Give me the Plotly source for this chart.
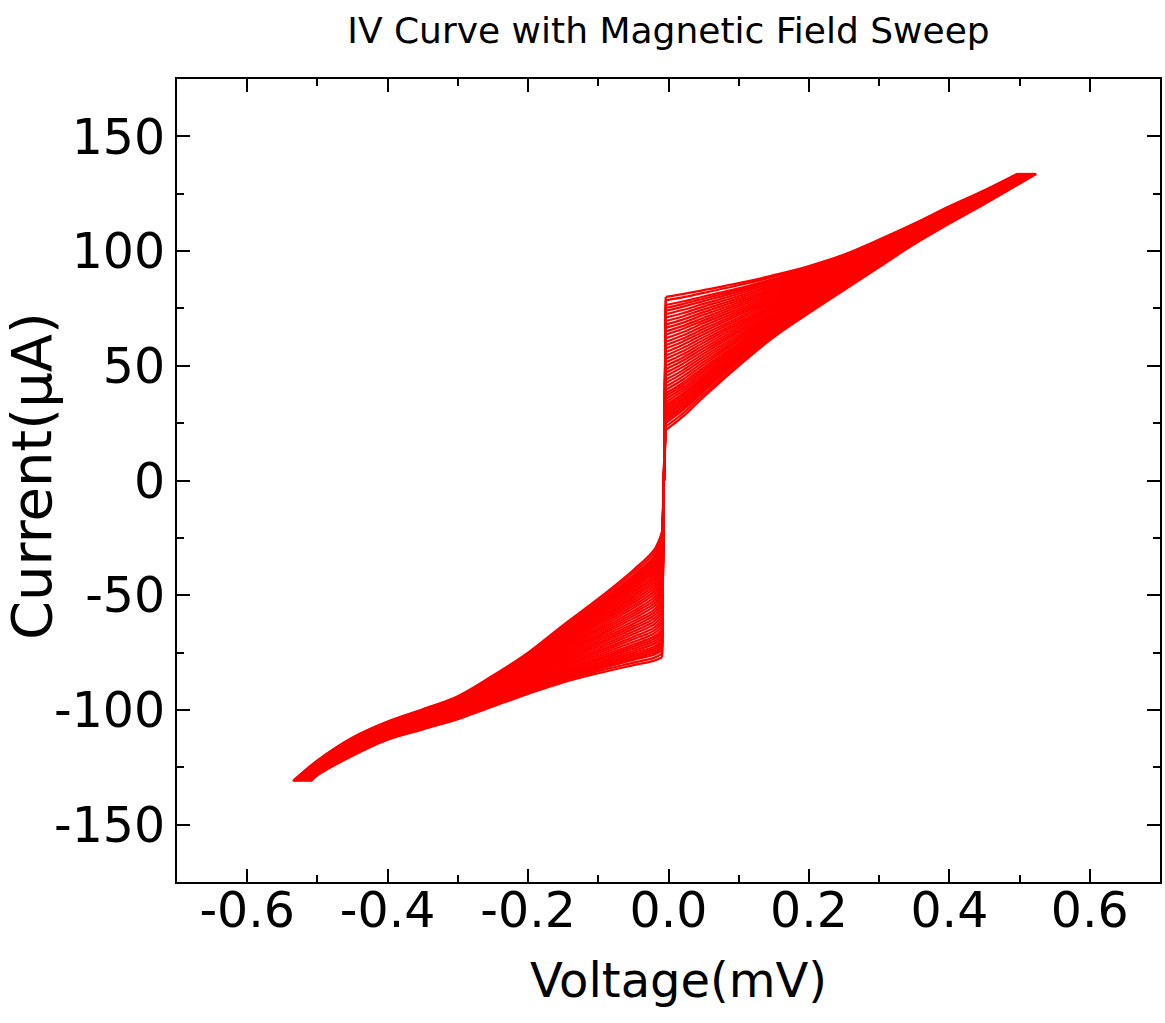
import plotly.graph_objects as go

# ---------------- data ----------------
# positive branch: voltage grid (mV) and current (uA) of each field step
V_POS = [-0.004, 0.02, 0.05, 0.10, 0.15, 0.20, 0.25, 0.30, 0.35, 0.40, 0.45]
I_POS = [
    [22.0, 27.7, 36.4, 50.0, 62.5, 73.0, 83.0, 93.0, 103.0, 112.0, 120.5],
    [23.5, 29.1, 37.6, 50.9, 63.2, 73.5, 83.4, 93.3, 103.2, 112.2, 120.7],
    [25.0, 30.5, 38.8, 51.9, 63.9, 74.1, 83.8, 93.6, 103.5, 112.4, 120.8],
    [26.0, 31.4, 39.6, 52.5, 64.4, 74.5, 84.1, 93.8, 103.7, 112.5, 120.9],
    [27.0, 32.3, 40.4, 53.1, 64.8, 74.8, 84.3, 94.0, 103.8, 112.6, 121.0],
    [28.0, 33.3, 41.2, 53.8, 65.3, 75.2, 84.6, 94.3, 104.0, 112.8, 121.1],
    [29.0, 34.2, 42.0, 54.4, 65.8, 75.5, 84.9, 94.5, 104.1, 112.9, 121.2],
    [30.0, 35.1, 42.8, 55.0, 66.3, 75.9, 85.2, 94.7, 104.3, 113.1, 121.3],
    [31.0, 36.0, 43.6, 55.6, 66.7, 76.2, 85.4, 94.9, 104.4, 113.2, 121.4],
    [32.0, 37.0, 44.5, 56.2, 67.2, 76.6, 85.7, 95.1, 104.6, 113.3, 121.5],
    [33.0, 37.9, 45.3, 56.8, 67.6, 76.9, 85.9, 95.3, 104.7, 113.4, 121.6],
    [34.2, 39.1, 46.3, 57.6, 68.2, 77.4, 86.3, 95.6, 104.9, 113.6, 121.8],
    [35.5, 40.2, 47.3, 58.4, 68.8, 77.8, 86.6, 95.8, 105.1, 113.7, 121.9],
    [36.8, 41.4, 48.3, 59.2, 69.4, 78.3, 87.0, 96.1, 105.3, 113.9, 122.1],
    [38.0, 42.5, 49.3, 59.9, 70.0, 78.7, 87.3, 96.3, 105.5, 114.1, 122.2],
    [39.5, 43.9, 50.5, 60.9, 70.7, 79.2, 87.7, 96.6, 105.8, 114.3, 122.4],
    [41.0, 45.3, 51.7, 61.8, 71.4, 79.7, 88.1, 96.9, 106.0, 114.5, 122.5],
    [42.5, 46.7, 52.9, 62.7, 72.1, 80.3, 88.5, 97.3, 106.2, 114.7, 122.7],
    [44.0, 48.0, 54.1, 63.6, 72.7, 80.8, 88.9, 97.6, 106.4, 114.8, 122.8],
    [45.5, 49.4, 55.3, 64.6, 73.4, 81.3, 89.3, 97.9, 106.7, 115.0, 123.0],
    [47.0, 50.8, 56.5, 65.5, 74.1, 81.8, 89.7, 98.2, 106.9, 115.2, 123.1],
    [48.5, 52.2, 57.7, 66.5, 74.8, 82.4, 90.1, 98.5, 107.1, 115.4, 123.3],
    [50.0, 53.5, 58.9, 67.4, 75.5, 82.9, 90.5, 98.8, 107.3, 115.6, 123.4],
    [51.5, 54.9, 60.1, 68.3, 76.2, 83.5, 90.9, 99.1, 107.6, 115.8, 123.6],
    [53.0, 56.3, 61.3, 69.2, 76.9, 84.0, 91.3, 99.4, 107.8, 116.0, 123.7],
    [54.5, 57.7, 62.5, 70.2, 77.6, 84.5, 91.7, 99.7, 108.1, 116.2, 123.9],
    [56.0, 59.1, 63.7, 71.1, 78.3, 85.0, 92.1, 100.0, 108.3, 116.4, 124.0],
    [57.5, 60.5, 64.9, 72.1, 79.0, 85.6, 92.5, 100.4, 108.5, 116.6, 124.2],
    [59.0, 61.8, 66.1, 73.0, 79.7, 86.1, 92.9, 100.7, 108.7, 116.8, 124.3],
    [60.5, 63.2, 67.4, 73.9, 80.4, 86.6, 93.3, 101.0, 109.0, 117.0, 124.5],
    [62.0, 64.6, 68.6, 74.8, 81.1, 87.1, 93.7, 101.3, 109.2, 117.2, 124.6],
    [63.5, 66.0, 69.8, 75.8, 81.8, 87.7, 94.1, 101.6, 109.5, 117.4, 124.8],
    [65.0, 67.3, 70.9, 76.7, 82.5, 88.2, 94.5, 101.9, 109.7, 117.6, 124.9],
    [66.5, 68.7, 72.2, 77.6, 83.2, 88.8, 94.9, 102.2, 109.9, 117.8, 125.1],
    [68.0, 70.1, 73.4, 78.5, 83.9, 89.3, 95.3, 102.5, 110.1, 117.9, 125.3],
    [69.5, 71.5, 74.6, 79.5, 84.6, 89.8, 95.7, 102.8, 110.4, 118.1, 125.5],
    [71.0, 72.9, 75.8, 80.4, 85.3, 90.3, 96.1, 103.1, 110.6, 118.3, 125.6],
    [72.5, 74.3, 77.0, 81.4, 86.0, 90.9, 96.5, 103.5, 110.9, 118.5, 125.8],
    [74.0, 75.7, 78.2, 82.3, 86.7, 91.4, 96.9, 103.8, 111.1, 118.7, 125.9],
    [75.2, 76.9, 79.2, 83.1, 87.3, 91.9, 97.3, 104.1, 111.3, 118.9, 126.0],
    [76.5, 78.0, 80.2, 83.8, 87.9, 92.3, 97.6, 104.3, 111.5, 119.1, 126.1],
    [78.5, 79.8, 81.8, 85.1, 88.8, 93.0, 98.1, 104.7, 111.8, 119.3, 126.3],
    [80.0, 81.2, 83.0, 86.0, 89.5, 93.5, 98.5, 105.0, 112.0, 119.5, 126.5],
]
V_POS_END = [0.524, 0.523, 0.523, 0.522, 0.522, 0.521, 0.521, 0.520, 0.520,
             0.519, 0.519, 0.518, 0.518, 0.517, 0.517, 0.516, 0.515, 0.514,
             0.514, 0.513, 0.512, 0.512, 0.511, 0.510, 0.510, 0.509, 0.508,
             0.508, 0.507, 0.506, 0.505, 0.505, 0.504, 0.504, 0.503, 0.502,
             0.501, 0.501, 0.500, 0.500, 0.499, 0.498, 0.497]
I_POS_END = 133.7

# negative branch
V_NEG = [-0.009, -0.02, -0.05, -0.10, -0.15, -0.20, -0.25, -0.30, -0.35,
         -0.40, -0.45, -0.50]
I_NEG = [
    [-22.0, -30.0, -39.0, -51.5, -63.0, -75.0, -85.0, -94.0, -99.7, -105.0, -112.0, -122.0],
    [-23.5, -31.3, -40.1, -52.4, -63.7, -75.5, -85.4, -94.3, -99.9, -105.2, -112.2, -122.2],
    [-25.0, -32.7, -41.3, -53.3, -64.4, -76.0, -85.7, -94.6, -100.2, -105.4, -112.4, -122.4],
    [-26.0, -33.6, -42.1, -53.9, -64.9, -76.3, -86.0, -94.8, -100.4, -105.6, -112.6, -122.5],
    [-27.0, -34.4, -42.8, -54.5, -65.3, -76.6, -86.2, -94.9, -100.5, -105.7, -112.7, -122.6],
    [-28.0, -35.3, -43.6, -55.1, -65.8, -77.0, -86.5, -95.1, -100.7, -105.9, -112.9, -122.7],
    [-29.0, -36.2, -44.3, -55.6, -66.2, -77.3, -86.7, -95.3, -100.8, -106.0, -113.0, -122.8],
    [-30.0, -37.1, -45.1, -56.2, -66.7, -77.7, -87.0, -95.5, -101.0, -106.2, -113.2, -123.0],
    [-31.0, -38.0, -45.8, -56.8, -67.1, -78.0, -87.2, -95.6, -101.1, -106.3, -113.3, -123.1],
    [-32.0, -38.9, -46.6, -57.4, -67.6, -78.3, -87.5, -95.8, -101.3, -106.5, -113.5, -123.2],
    [-33.0, -39.7, -47.3, -58.0, -68.0, -78.6, -87.7, -96.0, -101.5, -106.6, -113.6, -123.3],
    [-34.2, -40.8, -48.3, -58.8, -68.6, -79.0, -88.0, -96.3, -101.7, -106.8, -113.8, -123.5],
    [-35.5, -41.9, -49.2, -59.5, -69.1, -79.4, -88.3, -96.5, -101.9, -107.0, -114.0, -123.6],
    [-36.8, -43.0, -50.2, -60.3, -69.7, -79.8, -88.6, -96.7, -102.1, -107.2, -114.2, -123.8],
    [-38.0, -44.1, -51.1, -61.0, -70.3, -80.2, -88.9, -96.9, -102.3, -107.3, -114.3, -123.9],
    [-39.5, -45.4, -52.2, -61.9, -71.0, -80.7, -89.3, -97.2, -102.5, -107.6, -114.6, -124.1],
    [-41.0, -46.7, -53.3, -62.7, -71.6, -81.2, -89.7, -97.5, -102.7, -107.8, -114.8, -124.2],
    [-42.5, -48.1, -54.5, -63.6, -72.3, -81.7, -90.1, -97.8, -103.0, -108.0, -115.0, -124.4],
    [-44.0, -49.4, -55.6, -64.5, -73.0, -82.2, -90.4, -98.0, -103.2, -108.2, -115.2, -124.6],
    [-45.5, -50.8, -56.8, -65.4, -73.7, -82.7, -90.8, -98.3, -103.5, -108.4, -115.4, -124.8],
    [-47.0, -52.1, -57.9, -66.3, -74.4, -83.2, -91.1, -98.6, -103.7, -108.6, -115.6, -125.0],
    [-48.5, -53.4, -59.0, -67.2, -75.1, -83.7, -91.5, -98.9, -104.0, -108.9, -115.9, -125.2],
    [-50.0, -54.7, -60.1, -68.0, -75.7, -84.2, -91.9, -99.1, -104.2, -109.1, -116.1, -125.3],
    [-51.5, -56.1, -61.3, -68.9, -76.4, -84.7, -92.3, -99.4, -104.5, -109.3, -116.3, -125.5],
    [-53.0, -57.4, -62.4, -69.8, -77.1, -85.2, -92.6, -99.6, -104.7, -109.5, -116.5, -125.7],
    [-54.5, -58.7, -63.5, -70.7, -77.8, -85.7, -93.0, -99.9, -104.9, -109.7, -116.7, -125.9],
    [-56.0, -60.0, -64.6, -71.6, -78.5, -86.1, -93.3, -100.2, -105.1, -109.9, -116.9, -126.0],
    [-57.5, -61.3, -65.8, -72.5, -79.2, -86.6, -93.7, -100.5, -105.4, -110.2, -117.2, -126.2],
    [-59.0, -62.6, -66.9, -73.4, -79.8, -87.1, -94.1, -100.7, -105.6, -110.4, -117.4, -126.4],
    [-60.5, -64.0, -68.1, -74.3, -80.5, -87.6, -94.5, -101.0, -105.9, -110.6, -117.6, -126.6],
    [-62.0, -65.3, -69.2, -75.1, -81.2, -88.1, -94.8, -101.3, -106.1, -110.8, -117.8, -126.7],
    [-63.5, -66.6, -70.4, -76.0, -81.9, -88.6, -95.2, -101.6, -106.4, -111.1, -118.1, -126.9],
    [-65.0, -67.9, -71.5, -76.9, -82.6, -89.1, -95.6, -101.8, -106.6, -111.3, -118.3, -127.1],
    [-66.2, -69.0, -72.4, -77.7, -83.2, -89.5, -95.9, -102.1, -106.8, -111.5, -118.5, -127.3],
    [-67.5, -70.1, -73.3, -78.4, -83.7, -89.9, -96.2, -102.3, -107.0, -111.6, -118.6, -127.4],
    [-68.8, -71.2, -74.3, -79.2, -84.3, -90.3, -96.5, -102.5, -107.2, -111.8, -118.8, -127.6],
    [-70.0, -72.3, -75.2, -79.9, -84.8, -90.7, -96.8, -102.7, -107.4, -112.0, -119.0, -127.7],
    [-71.0, -73.2, -76.0, -80.5, -85.3, -91.1, -97.1, -102.9, -107.6, -112.2, -119.2, -127.8],
    [-72.0, -74.1, -76.7, -81.0, -85.7, -91.4, -97.3, -103.1, -107.7, -112.3, -119.3, -127.9],
    [-73.0, -75.0, -77.5, -81.6, -86.2, -91.7, -97.6, -103.3, -107.9, -112.5, -119.5, -128.0],
    [-74.0, -75.8, -78.2, -82.2, -86.6, -92.0, -97.8, -103.5, -108.0, -112.6, -119.6, -128.1],
    [-75.5, -77.2, -79.4, -83.1, -87.3, -92.5, -98.1, -103.7, -108.3, -112.8, -119.8, -128.3],
    [-77.0, -78.5, -80.5, -84.0, -88.0, -93.0, -98.5, -104.0, -108.5, -113.0, -120.0, -128.5],
]
V_NEG_END = [-0.535, -0.534, -0.534, -0.533, -0.533, -0.532, -0.532, -0.531,
             -0.531, -0.530, -0.530, -0.529, -0.529, -0.528, -0.527, -0.527,
             -0.526, -0.525, -0.525, -0.524, -0.523, -0.523, -0.522, -0.521,
             -0.520, -0.520, -0.519, -0.518, -0.517, -0.517, -0.516, -0.516,
             -0.515, -0.514, -0.513, -0.513, -0.512, -0.512, -0.511, -0.511,
             -0.510, -0.510, -0.509]
I_NEG_END = -131.0

X_TICKS = [-0.6, -0.4, -0.2, 0.0, 0.2, 0.4, 0.6]
X_TICK_TEXT = ["-0.6", "-0.4", "-0.2", "0.0", "0.2", "0.4", "0.6"]
Y_TICKS = [-150, -100, -50, 0, 50, 100, 150]
Y_TICK_TEXT = ["-150", "-100", "-50", "0", "50", "100", "150"]

TITLE = "IV Curve with Magnetic Field Sweep"
X_TITLE = "Voltage(mV)"
Y_TITLE = "Current(\u03bcA)"

# ---------------- figure ----------------
RED = "#ff0000"
LW = 2.2

pos_x, pos_y, neg_x, neg_y, ver_x, ver_y = [], [], [], [], [], []
for k in range(len(I_POS)):
    pos_x += V_POS + [V_POS_END[k], None]
    pos_y += I_POS[k] + [I_POS_END, None]
    neg_x += V_NEG + [V_NEG_END[k], None]
    neg_y += I_NEG[k] + [I_NEG_END, None]
    ver_x += [V_NEG[0], V_POS[0], None]
    ver_y += [I_NEG[k][0], I_POS[k][0], None]

fig = go.Figure()
fig.add_trace(go.Scatter(x=ver_x, y=ver_y, mode="lines",
                         line=dict(color=RED, width=LW),
                         showlegend=False, hoverinfo="skip"))
fig.add_trace(go.Scatter(x=pos_x, y=pos_y, mode="lines",
                         line=dict(color=RED, width=LW, shape="spline", smoothing=1.0),
                         showlegend=False, hoverinfo="skip"))
fig.add_trace(go.Scatter(x=neg_x, y=neg_y, mode="lines",
                         line=dict(color=RED, width=LW, shape="spline", smoothing=1.0),
                         showlegend=False, hoverinfo="skip"))

FONT = "DejaVu Sans, Liberation Sans, Arial, sans-serif"

axis_common = dict(
    showline=True, linecolor="black", linewidth=2, mirror="allticks",
    ticks="inside", ticklen=13, tickwidth=2, tickcolor="black",
    showgrid=False, zeroline=False,
    tickfont=dict(family=FONT, size=49, color="black"),
)

fig.update_xaxes(range=[-0.7, 0.7], tickvals=X_TICKS, ticktext=X_TICK_TEXT,
                 ticklabelstandoff=-16,
                 minor=dict(dtick=0.1, tick0=0, ticks="inside", ticklen=7,
                            tickwidth=2, tickcolor="black"),
                 **axis_common)
fig.update_yaxes(range=[-175, 175], tickvals=Y_TICKS, ticktext=Y_TICK_TEXT,
                 minor=dict(dtick=25, tick0=0, ticks="inside", ticklen=7,
                            tickwidth=2, tickcolor="black"),
                 **axis_common)

fig.update_layout(
    width=1165, height=1023,
    margin=dict(l=177, r=3, t=79, b=141),
    paper_bgcolor="white", plot_bgcolor="white",
    title=dict(text=TITLE, x=0.5, xref="paper", xanchor="center",
               y=1 - 30 / 1023, yref="container", yanchor="middle",
               font=dict(family=FONT, size=36, color="black")),
    annotations=[
        dict(text=X_TITLE, xref="paper", yref="paper", x=0.51, y=-0.122,
             xanchor="center", yanchor="middle", showarrow=False,
             font=dict(family=FONT, size=48, color="black")),
        dict(text=Y_TITLE, xref="paper", yref="paper", x=-0.148, y=0.505,
             xanchor="center", yanchor="middle", showarrow=False, textangle=-90,
             font=dict(family=FONT, size=56, color="black")),
    ],
)

fig.write_html("out.html")
